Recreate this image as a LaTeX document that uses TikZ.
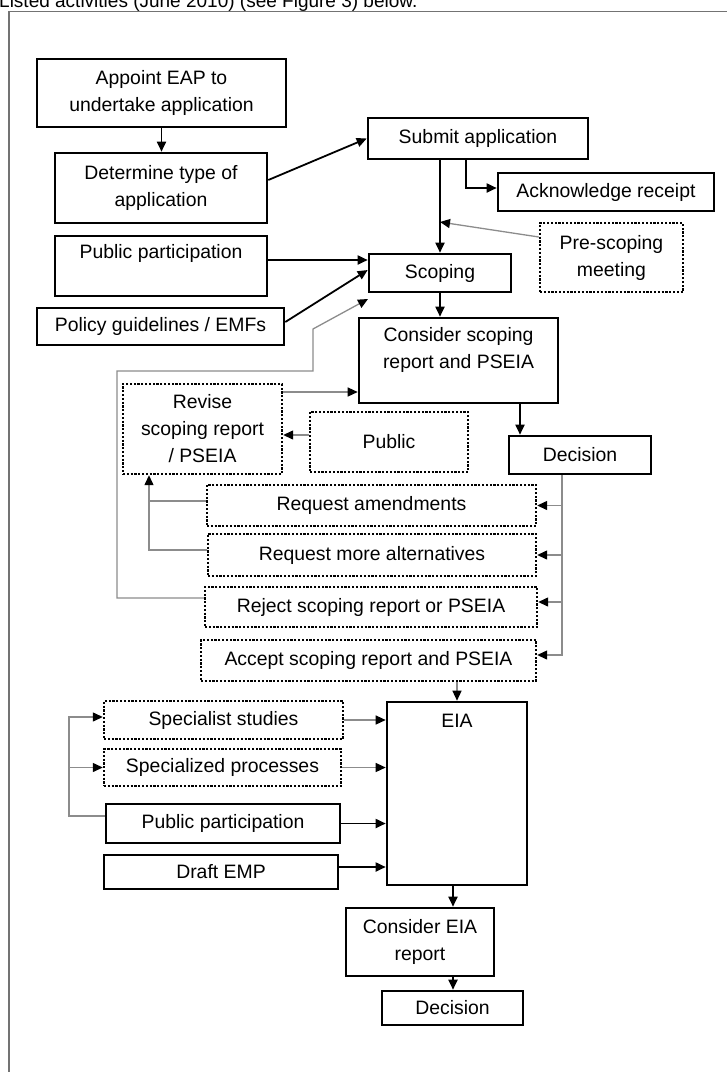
\documentclass[tikz,border=0pt]{standalone}
\usepackage{fontspec}
\setmainfont{Liberation Sans}
\usetikzlibrary{arrows.meta}
\begin{document}
\begin{tikzpicture}[x=1pt,y=-1pt,font=\fontsize{19.4pt}{27pt}\selectfont]
\tikzset{
 sbox/.style={draw=black,line width=2.6pt,inner sep=0pt,align=center},
 dbox/.style={draw=black,line width=2.4pt,dash pattern=on 2.2pt off 1.6pt,inner sep=0pt,align=center},
 txt/.style={inner sep=0pt,align=center},
 arr/.style={line width=1.8pt,-{Triangle[length=10pt,width=9pt]}},
 gline/.style={line width=1.3pt,draw=black!45},
 garr/.style={gline,-{Triangle[length=10pt,width=9pt,color=black]}},
 frame/.style={line width=1.2pt,draw=black!55}
}
\useasboundingbox (0,0) rectangle (727,1072);
\clip (0,0) rectangle (727,1072);

% header (cut off at the top) and frame
\node[anchor=base west,inner sep=0pt,font=\fontsize{19pt}{23pt}\selectfont] (hdr) at (-1,7) {Listed activities (June 2010) (see Figure 3) below.};
\coordinate (fbl) at (9,1072);
\coordinate (ftl) at (9,11.5);
\coordinate (ftr) at (727,11.5);
\draw[frame] (fbl) -- (ftl) -- (ftr);

% boxes
\node[sbox,minimum width=249pt,minimum height=68pt] (appoint) at (161.5,93) {Appoint EAP to\\undertake application};
\node[sbox,minimum width=212pt,minimum height=70pt] (det) at (161,188) {Determine type of\\application};
\node[sbox,minimum width=212pt,minimum height=60pt] (pp1) at (161,266) {};
\node[txt] (pp1t) at (161,253) {Public participation};
\node[sbox,minimum width=247pt,minimum height=37pt] (pol) at (160.5,326.5) {Policy guidelines / EMFs};
\node[sbox,minimum width=220pt,minimum height=41pt] (sub) at (478,138.5) {Submit application};
\node[sbox,minimum width=216pt,minimum height=38pt] (ack) at (606,192) {Acknowledge receipt};
\node[dbox,minimum width=143pt,minimum height=69pt] (pre) at (611.5,257.5) {Pre-scoping\\meeting};
\node[sbox,minimum width=142pt,minimum height=38pt] (scop) at (440,273) {Scoping};
\node[sbox,minimum width=199pt,minimum height=85pt] (cons) at (458.5,360.5) {};
\node[txt] (const) at (458.5,350) {Consider scoping\\report and PSEIA};
\node[dbox,minimum width=159pt,minimum height=90pt] (rev) at (202.5,429) {Revise\\scoping report\\/ PSEIA};
\node[dbox,minimum width=158pt,minimum height=60pt] (pub) at (389,442) {Public};
\node[sbox,minimum width=142pt,minimum height=38pt] (dec1) at (580,455) {Decision};
\node[dbox,minimum width=329pt,minimum height=41pt] (ram) at (371.5,505.5) {Request amendments};
\node[dbox,minimum width=328pt,minimum height=42pt] (ral) at (372,555) {Request more alternatives};
\node[dbox,minimum width=332pt,minimum height=40pt] (rej) at (371,607) {Reject scoping report or PSEIA};
\node[dbox,minimum width=335pt,minimum height=41pt] (acc) at (368.5,660.5) {Accept scoping report and PSEIA};
\node[sbox,minimum width=140pt,minimum height=183pt] (eia) at (457,793.5) {};
\node[txt] (eiat) at (457,721) {EIA};
\node[dbox,minimum width=239pt,minimum height=38pt] (spec) at (223.5,720) {Specialist studies};
\node[dbox,minimum width=237pt,minimum height=37pt] (spp) at (222.5,767.5) {Specialized processes};
\node[sbox,minimum width=234pt,minimum height=39pt] (pp2) at (223,823.5) {Public participation};
\node[sbox,minimum width=234pt,minimum height=34pt] (emp) at (221,872) {Draft EMP};
\node[sbox,minimum width=148pt,minimum height=68pt] (ceia) at (420,942) {Consider EIA\\report};
\node[sbox,minimum width=141pt,minimum height=34pt] (dec2) at (452.5,1008) {Decision};

% helper coordinates
\coordinate (m1) at (440,222);
\coordinate (m2) at (368,299);
\coordinate (xa) at (520,0);
\coordinate (xd) at (562,0);
\coordinate (xr) at (149,0);
\coordinate (xl) at (69,0);
\coordinate (xb) at (453,0);
\coordinate (g1) at (117,371);
\coordinate (g2) at (313,329);

% connectors: top part
\draw[arr] (appoint.south) -- (appoint.south |- det.north);
\draw[arr] ([yshift=8pt]det.east) -- (sub.west);
\draw[arr] ([yshift=6pt]pp1.east) -- ([yshift=6pt]pp1.east -| scop.west);
\draw[arr] ([yshift=4.5pt]pol.east) -- ([yshift=3pt]scop.west);
\draw[arr] (scop.north |- sub.south) -- (scop.north);
\draw[garr] ([yshift=20.5pt]pre.west) -- (m1);
\draw[arr] ([xshift=-12pt]sub.south) |- ([yshift=4pt]ack.west);
\draw[arr] (scop.south) -- (scop.south |- cons.north);

% scoping review loop
\draw[garr] ([yshift=9pt]rej.west) -| (g1) -| (g2) -- (m2);
\draw[garr] ([yshift=-31.5pt]cons.west -| rev.east) -- ([yshift=-31.5pt]cons.west);
\draw[garr] ([yshift=7pt]pub.west) -- ([yshift=7pt]pub.west -| rev.east);
\draw[arr] (cons.south -| xa) -- (dec1.north -| xa);
\draw[garr] (dec1.south -| xd) |- ([yshift=5.5pt]acc.east);
\draw[garr] (ram.east -| xd) -- (ram.east);
\draw[garr] (ral.east -| xd) -- (ral.east);
\draw[garr] ([yshift=5pt]rej.east -| xd) -- ([yshift=5pt]rej.east);
\draw[garr] ([yshift=5pt]ral.west) -| (rev.south -| xr);
\draw[gline] ([yshift=4.5pt]ram.west) -- ([yshift=4.5pt]ram.west -| xr);

% EIA part
\draw[garr] (acc.south -| eia.north) -- (eia.north);
\draw[garr] ([yshift=7.5pt]pp2.west) -| ([yshift=3pt]spec.west -| xl) -- ([yshift=3pt]spec.west);
\draw[garr] (spp.west -| xl) -- (spp.west);
\draw[garr] (spec.east) -- (spec.east -| eia.west);
\draw[garr] (spp.east) -- (spp.east -| eia.west);
\draw[arr] (pp2.east) -- (pp2.east -| eia.west);
\draw[arr] ([yshift=5pt]emp.east) -- ([yshift=5pt]emp.east -| eia.west);
\draw[arr] (eia.south -| xb) -- (ceia.north -| xb);
\draw[arr] (ceia.south -| xb) -- (dec2.north -| xb);
\end{tikzpicture}
\end{document}
